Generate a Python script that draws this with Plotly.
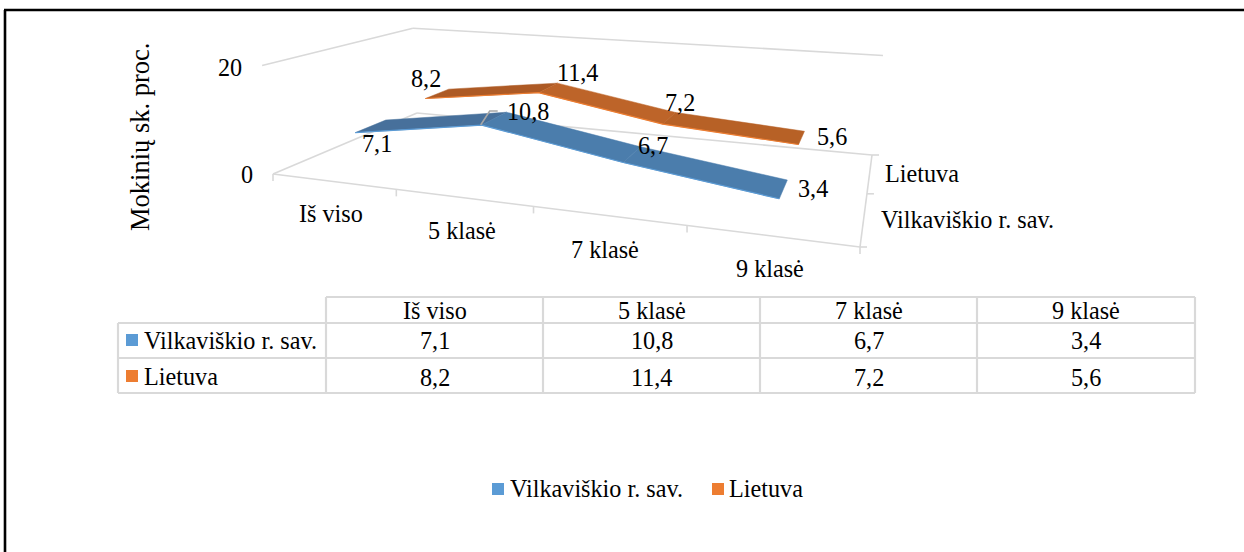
import numpy as np
import plotly.graph_objects as go

# ---------- data ----------
categories = ["Iš viso", "5 klasė", "7 klasė", "9 klasė"]
series_names = ["Vilkaviškio r. sav.", "Lietuva"]
vilkaviskio = [7.1, 10.8, 6.7, 3.4]
lietuva = [8.2, 11.4, 7.2, 5.6]
value_ticks = [0, 20]
axis_title = "Mokinių sk. proc."

# ---------- styling ----------
FONT = "Liberation Serif, Times New Roman, serif"
FS = 24.2
GRID = "#D9D9D9"
KEY = ["#5B9BD5", "#ED7D31"]
SEG = [["#47709B", "#4B7DAC", "#4B7DAC"], ["#AD5A25", "#BD6429", "#B76126"]]
RIBBON_HALF = 0.10

# ---------- perspective camera of the 3-D box (u along categories, v depth, z value/20) ----------
FLOOR = {(0, 0): (273, 174), (1, 0): (860, 247), (1, 1): (872, 155), (0, 1): (417, 113)}
TOPS = {(0, 0): (262, 66), (0, 1): (413, 29), (1, 1): (883, 54)}
A = []
b = []
for (u, v), (x, y) in FLOOR.items():
    A.append([u, v, 1, 0, 0, 0, -x * u, -x * v]); b.append(x)
    A.append([0, 0, 0, u, v, 1, -y * u, -y * v]); b.append(y)
h = np.linalg.solve(np.array(A, float), np.array(b, float))
H = np.array([[h[0], h[1], h[2]], [h[3], h[4], h[5]], [h[6], h[7], 1.0]])
A = []
b = []
for (u, v), (x, y) in TOPS.items():
    g = H @ np.array([u, v, 1.0])
    A.append([1, 0, -x]); b.append(x * g[2] - g[0])
    A.append([0, 1, -y]); b.append(y * g[2] - g[1])
Z = np.linalg.lstsq(np.array(A, float), np.array(b, float), rcond=None)[0]


def project(u, v, val):
    g = H @ np.array([u, v, 1.0]) + Z * (val / value_ticks[-1])
    return g[0] / g[2], g[1] / g[2]


fig = go.Figure()
ann = []
shapes = []


def text(x, y, s, anchor="center", angle=0, size=FS):
    if anchor == "left":
        x -= 2.5
    ann.append(dict(x=x, y=y, text=s, showarrow=False, xanchor=anchor, yanchor="middle",
                    textangle=angle, font=dict(family=FONT, size=size, color="#000000")))


def line(p, q, color=GRID, width=1.6):
    shapes.append(dict(type="line", x0=p[0], y0=p[1], x1=q[0], y1=q[1],
                       line=dict(color=color, width=width), layer="below"))


# frame
line((5, 552), (5, 10), "#000000", 2.6)
line((4, 10), (1244, 10), "#000000", 2.6)

# box lines
for a, c in [((0, 0, 0), (1, 0, 0)), ((0, 0, 0), (0, 1, 0)), ((0, 1, 0), (1, 1, 0)), ((1, 0, 0), (1, 1, 0)),
             ((0, 0, 20), (0, 1, 20)), ((0, 1, 20), (1, 1, 20))]:
    line(project(*a), project(*c))
for i in range(len(categories) + 1):
    p = project(i / len(categories), 0, 0)
    line(p, (p[0], p[1] + 7))
for j in range(len(series_names) + 1):
    p = project(1, j / len(series_names), 0)
    line(p, (p[0] + 7, p[1]))

# ribbons (far series first)
all_values = [vilkaviskio, lietuva]
n = len(categories)
m = len(series_names)
for s in (1, 0):
    vals = all_values[s]
    vc = (s + 0.5) / m
    for i in range(n - 1):
        u0, u1 = (i + 0.5) / n, (i + 1.5) / n
        pts = [project(u0, vc - RIBBON_HALF, vals[i]), project(u1, vc - RIBBON_HALF, vals[i + 1]),
               project(u1, vc + RIBBON_HALF, vals[i + 1]), project(u0, vc + RIBBON_HALF, vals[i])]
        fig.add_trace(go.Scatter(x=[p[0] for p in pts] + [pts[0][0]], y=[p[1] for p in pts] + [pts[0][1]],
                                 mode="lines", fill="toself", fillcolor=SEG[s][i],
                                 line=dict(width=0.5, color=SEG[s][i]), hoverinfo="skip", showlegend=False))
    front = [project((i + 0.5) / n, vc - RIBBON_HALF, vals[i]) for i in range(n)]
    fig.add_trace(go.Scatter(x=[p[0] for p in front], y=[p[1] for p in front], mode="lines",
                             line=dict(width=1.2, color=KEY[s]), hoverinfo="skip", showlegend=False))

# data labels: offsets from the projected ribbon point
LABEL_OFF = [[(6, 17), (34, -7), (21, -9), (30, -1)], [(-11, -15), (29, -15), (11, -16), (30, -1)]]
for s in range(m):
    for i in range(n):
        p = project((i + 0.5) / n, (s + 0.5) / m, all_values[s][i])
        text(p[0] + LABEL_OFF[s][i][0], p[1] + LABEL_OFF[s][i][1], f"{all_values[s][i]:.1f}".replace(".", ","))

# leader line of the 10,8 label
p = project(1.5 / n, 0.5 / m - RIBBON_HALF, vilkaviskio[1])
fig.add_trace(go.Scatter(x=[p[0] - 1, p[0] + 8, p[0] + 16], y=[p[1], p[1] - 14, p[1] - 14], mode="lines",
                         line=dict(color="#A6A6A6", width=1.6), hoverinfo="skip", showlegend=False))

# axis text
text(230, 67, str(value_ticks[1]))
text(247, 174, str(value_ticks[0]))
text(140, 137, axis_title, angle=-90, size=26.5)
for c, (x, y) in zip(categories, [(331, 213), (462, 230), (605, 249), (770, 268)]):
    text(x, y, c)
text(885, 173, series_names[1], "left")
text(881, 219, series_names[0], "left")

# data table
X = [118, 326, 543, 760, 977, 1195]
Y = [297, 323, 358, 393]
line((X[1], Y[0]), (X[-1], Y[0]), width=2.2)
for y in Y[1:]:
    line((X[0], y), (X[-1], y), width=2.2)
for i, x in enumerate(X):
    line((x, Y[0] if i else Y[1]), (x, Y[-1]), width=2.2)
for i, c in enumerate(categories):
    cx = (X[i + 1] + X[i + 2]) / 2
    text(cx, 310, c)
    text(cx, 340, f"{vilkaviskio[i]:.1f}".replace(".", ","))
    text(cx, 377, f"{lietuva[i]:.1f}".replace(".", ","))


def key(x, y, color):
    shapes.append(dict(type="rect", x0=x, x1=x + 12, y0=y, y1=y + 12, fillcolor=color, line=dict(width=0)))


key(126, 334, KEY[0]); text(144, 340, series_names[0], "left")
key(126, 370, KEY[1]); text(144, 376, series_names[1], "left")

# legend
key(492, 483, KEY[0]); text(510, 488, series_names[0], "left")
key(712, 483, KEY[1]); text(729, 488, series_names[1], "left")

fig.update_layout(width=1244, height=552, margin=dict(l=0, r=0, t=0, b=0), paper_bgcolor="white",
                  plot_bgcolor="white", showlegend=False, annotations=ann, shapes=shapes,
                  xaxis=dict(range=[0, 1244], visible=False, fixedrange=True),
                  yaxis=dict(range=[552, 0], visible=False, fixedrange=True))
fig.write_html("out.html", config={"displayModeBar": False},
               post_script="document.body.style.margin='0';document.documentElement.style.overflow='hidden';")
